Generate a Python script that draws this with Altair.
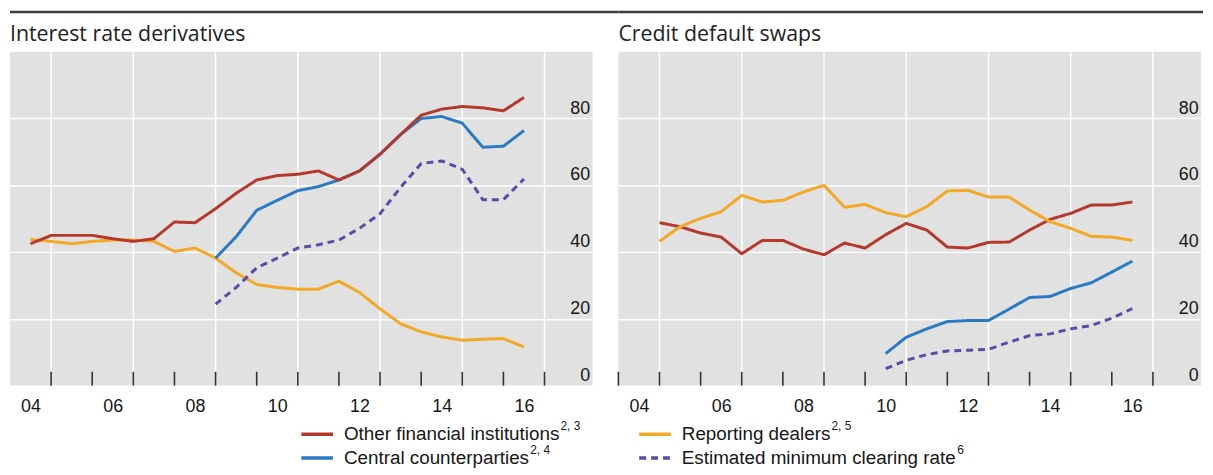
import altair as alt
import pandas as pd

# ---------------- data ----------------
SERIES = ["Other financial institutions", "Central counterparties",
          "Reporting dealers", "Estimated minimum clearing rate"]
COLORS = ["#b5382d", "#2b7bc4", "#f3a826", "#5b4aa6"]
DASHES = [[1, 0], [1, 0], [1, 0], [7, 5]]

# Interest rate derivatives (half-yearly)
IRD_YEARS = [2004.5, 2005.0, 2005.5, 2006.0, 2006.5, 2007.0, 2007.5, 2008.0, 2008.5,
             2009.0, 2009.5, 2010.0, 2010.5, 2011.0, 2011.5, 2012.0, 2012.5, 2013.0,
             2013.5, 2014.0, 2014.5, 2015.0, 2015.5, 2016.0, 2016.5]
IRD_OFI = [42.5, 45.0, 45.0, 45.0, 44.0, 43.2, 44.0, 49.0, 48.8, 53.0, 57.6, 61.6, 62.9,
           63.3, 64.3, 61.6, 64.3, 69.3, 75.2, 81.0, 82.8, 83.6, 83.2, 82.3, 86.3]
IRD_DEALERS = [43.8, 43.2, 42.5, 43.2, 43.6, 43.6, 43.2, 40.2, 41.2, 38.2, 33.8, 30.3, 29.4,
               28.9, 28.9, 31.3, 27.9, 23.0, 18.5, 16.1, 14.6, 13.6, 13.9, 14.1, 11.6]
IRD_CCP_YEARS = [2009.0, 2009.5, 2010.0, 2010.5, 2011.0, 2011.5, 2012.0, 2012.5, 2013.0,
                 2013.5, 2014.0, 2014.5, 2015.0, 2015.5, 2016.0, 2016.5]
IRD_CCP = [38.2, 44.6, 52.5, 55.5, 58.4, 59.6, 61.6, 64.3, 69.3, 75.2, 80.0, 80.6, 78.6,
           71.4, 71.7, 76.4]
IRD_MIN = [24.4, 29.4, 35.3, 38.2, 41.2, 42.2, 43.6, 47.1, 51.5, 59.4, 66.5, 67.3, 64.8,
           55.7, 55.7, 61.9]

# Credit default swaps (half-yearly)
CDS_YEARS = [2005.0, 2005.5, 2006.0, 2006.5, 2007.0, 2007.5, 2008.0, 2008.5, 2009.0,
             2009.5, 2010.0, 2010.5, 2011.0, 2011.5, 2012.0, 2012.5, 2013.0, 2013.5,
             2014.0, 2014.5, 2015.0, 2015.5, 2016.0, 2016.5]
CDS_DEALERS = [43.2, 47.6, 50.1, 52.1, 57.0, 55.0, 55.5, 58.0, 60.0, 53.4, 54.3, 51.8,
               50.6, 53.6, 58.3, 58.5, 56.5, 56.5, 52.6, 49.1, 47.1, 44.7, 44.5, 43.5]
CDS_OFI = [48.8, 47.6, 45.7, 44.5, 39.5, 43.5, 43.5, 40.9, 39.2, 42.7, 41.2, 45.2,
           48.6, 46.6, 41.5, 41.2, 42.9, 43.0, 46.6, 49.8, 51.6, 54.1, 54.1, 55.0]
CDS_CCP_YEARS = [2010.5, 2011.0, 2011.5, 2012.0, 2012.5, 2013.0, 2013.5, 2014.0, 2014.5,
                 2015.0, 2015.5, 2016.0, 2016.5]
CDS_CCP = [9.6, 14.5, 17.0, 19.2, 19.5, 19.5, 22.9, 26.4, 26.7, 29.1, 30.8, 34.0, 37.3]
CDS_MIN = [5.1, 7.6, 9.3, 10.4, 10.6, 10.9, 13.0, 15.0, 15.5, 17.0, 18.0, 20.2, 23.1]

# axes
GRID_YEARS = [2005, 2007, 2009, 2011, 2013, 2015, 2017]
X_LABELS = ["04", "06", "08", "10", "12", "14", "16"]
Y_VALUES = [0, 20, 40, 60, 80]
IRD_TICKS = [2005, 2006, 2007, 2008, 2009, 2010, 2011, 2012, 2013, 2014, 2015, 2016, 2017]
CDS_TICKS = [2004, 2005, 2006, 2007, 2008, 2009, 2010, 2011, 2012, 2013, 2014, 2015, 2016, 2017]

TITLES = ["Interest rate derivatives", "Credit default swaps"]
SUPS = {"Other financial institutions": "2, 3", "Central counterparties": "2, 4",
        "Reporting dealers": "2, 5", "Estimated minimum clearing rate": "6"}

# ---------------- layout ----------------
W, H = 588, 337
X_DOMAIN = [2004, 2018.17]
YEAR_PX = W / (X_DOMAIN[1] - X_DOMAIN[0])
FONT = "Liberation Sans"
TXT = "#161616"


def long_df(parts):
    rows = []
    for name, years, vals in parts:
        for y, v in zip(years, vals):
            rows.append({"year": y, "value": v, "series": name})
    return pd.DataFrame(rows)


label_expr = " : ".join(f"datum.value == {y} ? '{l}'" for y, l in zip(GRID_YEARS, X_LABELS)) + " : ''"

x_scale = alt.Scale(domain=X_DOMAIN, nice=False, zero=False)
y_scale = alt.Scale(domain=[0, 100], nice=False, zero=True)
one = pd.DataFrame({"a": [0]})


def legend_item(name, x0, y0, text_w):
    i = SERIES.index(name)
    sym = alt.Chart(one).mark_rule(
        color=COLORS[i], strokeWidth=3.5, strokeDash=DASHES[i]
    ).encode(x=alt.value(x0), x2=alt.value(x0 + 32), y=alt.value(y0))
    txt = alt.Chart(one).mark_text(
        text=name, align="left", baseline="middle", font=FONT, fontSize=19, color=TXT
    ).encode(x=alt.value(x0 + 43), y=alt.value(y0))
    sup = alt.Chart(one).mark_text(
        text=SUPS[name], align="left", baseline="middle", font=FONT, fontSize=12, color=TXT
    ).encode(x=alt.value(x0 + 43 + text_w + 1), y=alt.value(y0 - 8))
    return [sym, txt, sup]


def panel(title, df, ticks, legend_specs, rule_x2):
    lines = alt.Chart(df).mark_line(strokeWidth=3, strokeJoin="round").encode(
        x=alt.X("year:Q", scale=x_scale, title=None,
                axis=alt.Axis(values=GRID_YEARS, grid=True, gridColor="white", gridWidth=1.5,
                              ticks=False, domain=False, labelExpr=label_expr,
                              labelOffset=-YEAR_PX / 2, labelPadding=12, labelFlush=False,
                              labelOverlap=False, labelFontSize=18, labelFont=FONT,
                              labelColor=TXT)),
        y=alt.Y("value:Q", scale=y_scale, title=None,
                axis=alt.Axis(orient="right", values=Y_VALUES, grid=True, gridColor="white",
                              gridWidth=1.5, ticks=False, tickSize=0, domain=False,
                              labelAlign="right", labelPadding=-3, labelBaseline="alphabetic",
                              labelOffset=-5.5, labelFlush=False, labelOverlap=False,
                              labelFontSize=18, labelFont=FONT, labelColor=TXT)),
        color=alt.Color("series:N", scale=alt.Scale(domain=SERIES, range=COLORS), legend=None),
        strokeDash=alt.StrokeDash("series:N", scale=alt.Scale(domain=SERIES, range=DASHES),
                                  legend=None),
    )
    tick_marks = alt.Chart(pd.DataFrame({"year": ticks})).mark_rule(
        color="#333333", strokeWidth=1.6
    ).encode(x=alt.X("year:Q", scale=x_scale), y=alt.value(H - 14), y2=alt.value(H))
    top_rule = alt.Chart(one).mark_rule(color="#3c3c3c", strokeWidth=2.5).encode(
        x=alt.value(0), x2=alt.value(rule_x2), y=alt.value(-40)
    )
    title_mark = alt.Chart(one).mark_text(
        text=title, align="left", baseline="alphabetic", font="Open Sans", fontSize=21.5,
        color="#1e1e1e"
    ).encode(x=alt.value(0), y=alt.value(-11))
    layers = [tick_marks, lines, top_rule, title_mark]
    for spec in legend_specs:
        layers += legend_item(*spec)
    return alt.layer(*layers).properties(width=W, height=H)


ird_df = long_df([
    ("Reporting dealers", IRD_YEARS, IRD_DEALERS),
    ("Estimated minimum clearing rate", IRD_CCP_YEARS, IRD_MIN),
    ("Central counterparties", IRD_CCP_YEARS, IRD_CCP),
    ("Other financial institutions", IRD_YEARS, IRD_OFI),
])
cds_df = long_df([
    ("Estimated minimum clearing rate", CDS_CCP_YEARS, CDS_MIN),
    ("Central counterparties", CDS_CCP_YEARS, CDS_CCP),
    ("Other financial institutions", CDS_YEARS, CDS_OFI),
    ("Reporting dealers", CDS_YEARS, CDS_DEALERS),
])

left = panel(TITLES[0], ird_df, IRD_TICKS, [
    ("Other financial institutions", 294, H + 49, 217.5),
    ("Central counterparties", 294, H + 73, 187),
], W + 26)
right = panel(TITLES[1], cds_df, CDS_TICKS, [
    ("Reporting dealers", 21, H + 49, 150),
    ("Estimated minimum clearing rate", 21, H + 73, 277),
], W + 2)

chart = alt.hconcat(left, right, spacing=26, bounds="flush").properties(
    padding={"left": 0, "top": 0, "right": 0, "bottom": 0}
).configure(background="white").configure_view(fill="#e1e1e1", stroke=None)

chart.save("out.html", embed_options={"renderer": "svg", "actions": False})
